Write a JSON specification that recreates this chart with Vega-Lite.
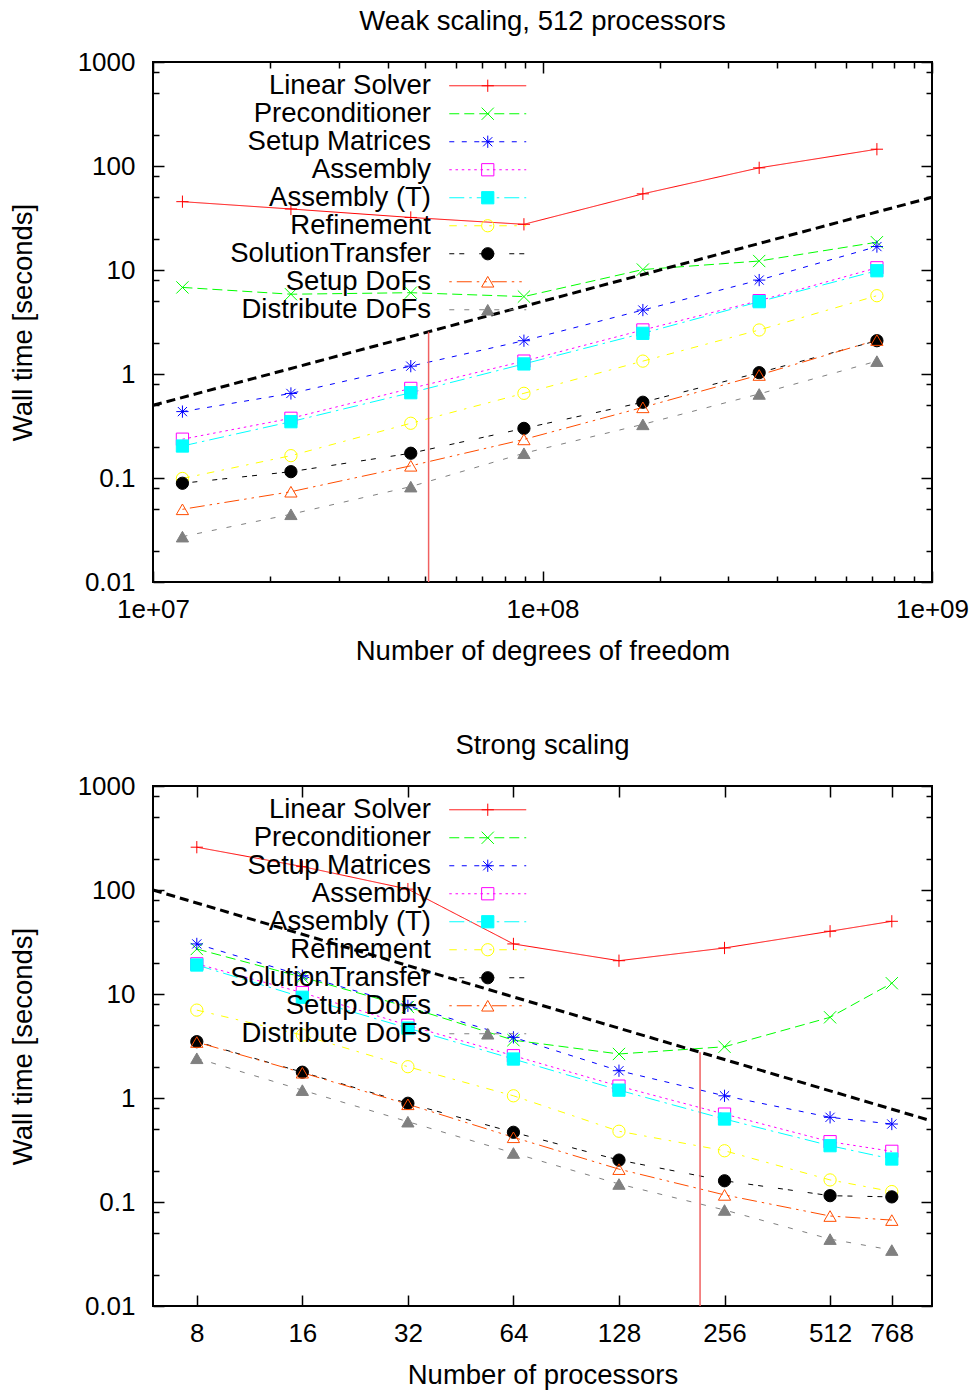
{
  "$schema": "https://vega.github.io/schema/vega-lite/v6.json",
  "background": "white",
  "padding": {"left": 8, "top": 6, "right": 5, "bottom": 5},
  "spacing": 64,
  "config": {
    "font": "Liberation Sans",
    "view": {"stroke": "black", "strokeWidth": 2},
    "axis": {"grid": false, "domain": false, "tickColor": "black", "tickWidth": 1.5, "labelFont": "Liberation Sans", "labelFontSize": 26, "labelColor": "black", "labelFlush": false, "labelOverlap": false, "labelBound": false, "titleFont": "Liberation Sans", "titleFontSize": 27.5, "titleFontWeight": "normal", "titleColor": "black"},
    "legend": {"labelFont": "Liberation Sans", "labelFontSize": 27.5, "labelColor": "black", "labelLimit": 0, "padding": 0, "rowPadding": -1.5},
    "title": {"font": "Liberation Sans", "fontSize": 27.5, "fontWeight": "normal", "color": "black", "baseline": "alphabetic", "offset": 14}
  },
  "datasets": {
    "weak": [
      {"s": "Linear Solver", "x": 11900000, "y": 45.4}, {"s": "Linear Solver", "x": 22600000, "y": 38.6}, {"s": "Linear Solver", "x": 45900000, "y": 32}, {"s": "Linear Solver", "x": 89600000, "y": 27.5}, {"s": "Linear Solver", "x": 181000000, "y": 54}, {"s": "Linear Solver", "x": 360000000, "y": 96}, {"s": "Linear Solver", "x": 722000000, "y": 145},
      {"s": "Preconditioner", "x": 11900000, "y": 6.8}, {"s": "Preconditioner", "x": 22600000, "y": 5.85}, {"s": "Preconditioner", "x": 45900000, "y": 6.05}, {"s": "Preconditioner", "x": 89600000, "y": 5.55}, {"s": "Preconditioner", "x": 181000000, "y": 10.1}, {"s": "Preconditioner", "x": 360000000, "y": 12.2}, {"s": "Preconditioner", "x": 722000000, "y": 18.5},
      {"s": "Setup Matrices", "x": 11900000, "y": 0.435}, {"s": "Setup Matrices", "x": 22600000, "y": 0.65}, {"s": "Setup Matrices", "x": 45900000, "y": 1.19}, {"s": "Setup Matrices", "x": 89600000, "y": 2.09}, {"s": "Setup Matrices", "x": 181000000, "y": 4.12}, {"s": "Setup Matrices", "x": 360000000, "y": 8.0}, {"s": "Setup Matrices", "x": 722000000, "y": 16.8},
      {"s": "Assembly", "x": 11900000, "y": 0.236}, {"s": "Assembly", "x": 22600000, "y": 0.375}, {"s": "Assembly", "x": 45900000, "y": 0.727}, {"s": "Assembly", "x": 89600000, "y": 1.33}, {"s": "Assembly", "x": 181000000, "y": 2.65}, {"s": "Assembly", "x": 360000000, "y": 5.07}, {"s": "Assembly", "x": 722000000, "y": 10.5},
      {"s": "Assembly (T)", "x": 11900000, "y": 0.203}, {"s": "Assembly (T)", "x": 22600000, "y": 0.348}, {"s": "Assembly (T)", "x": 45900000, "y": 0.661}, {"s": "Assembly (T)", "x": 89600000, "y": 1.25}, {"s": "Assembly (T)", "x": 181000000, "y": 2.46}, {"s": "Assembly (T)", "x": 360000000, "y": 4.96}, {"s": "Assembly (T)", "x": 722000000, "y": 9.84},
      {"s": "Refinement", "x": 11900000, "y": 0.099}, {"s": "Refinement", "x": 22600000, "y": 0.164}, {"s": "Refinement", "x": 45900000, "y": 0.336}, {"s": "Refinement", "x": 89600000, "y": 0.652}, {"s": "Refinement", "x": 181000000, "y": 1.33}, {"s": "Refinement", "x": 360000000, "y": 2.65}, {"s": "Refinement", "x": 722000000, "y": 5.66},
      {"s": "SolutionTransfer", "x": 11900000, "y": 0.089}, {"s": "SolutionTransfer", "x": 22600000, "y": 0.115}, {"s": "SolutionTransfer", "x": 45900000, "y": 0.173}, {"s": "SolutionTransfer", "x": 89600000, "y": 0.30}, {"s": "SolutionTransfer", "x": 181000000, "y": 0.535}, {"s": "SolutionTransfer", "x": 360000000, "y": 1.03}, {"s": "SolutionTransfer", "x": 722000000, "y": 2.09},
      {"s": "Setup DoFs", "x": 11900000, "y": 0.050}, {"s": "Setup DoFs", "x": 22600000, "y": 0.0738}, {"s": "Setup DoFs", "x": 45900000, "y": 0.131}, {"s": "Setup DoFs", "x": 89600000, "y": 0.235}, {"s": "Setup DoFs", "x": 181000000, "y": 0.478}, {"s": "Setup DoFs", "x": 360000000, "y": 0.978}, {"s": "Setup DoFs", "x": 722000000, "y": 2.12},
      {"s": "Distribute DoFs", "x": 11900000, "y": 0.0273}, {"s": "Distribute DoFs", "x": 22600000, "y": 0.0448}, {"s": "Distribute DoFs", "x": 45900000, "y": 0.0826}, {"s": "Distribute DoFs", "x": 89600000, "y": 0.173}, {"s": "Distribute DoFs", "x": 181000000, "y": 0.328}, {"s": "Distribute DoFs", "x": 360000000, "y": 0.643}, {"s": "Distribute DoFs", "x": 722000000, "y": 1.33}
    ],
    "strong": [
      {"s": "Linear Solver", "x": 8, "y": 258}, {"s": "Linear Solver", "x": 16, "y": 168}, {"s": "Linear Solver", "x": 32, "y": 102}, {"s": "Linear Solver", "x": 64, "y": 30.3}, {"s": "Linear Solver", "x": 128, "y": 20.9}, {"s": "Linear Solver", "x": 256, "y": 27.7}, {"s": "Linear Solver", "x": 512, "y": 40.1}, {"s": "Linear Solver", "x": 768, "y": 50},
      {"s": "Preconditioner", "x": 8, "y": 27.1}, {"s": "Preconditioner", "x": 16, "y": 14.5}, {"s": "Preconditioner", "x": 32, "y": 7.5}, {"s": "Preconditioner", "x": 64, "y": 3.6}, {"s": "Preconditioner", "x": 128, "y": 2.65}, {"s": "Preconditioner", "x": 256, "y": 3.11}, {"s": "Preconditioner", "x": 512, "y": 5.97}, {"s": "Preconditioner", "x": 768, "y": 12.7},
      {"s": "Setup Matrices", "x": 8, "y": 30.3}, {"s": "Setup Matrices", "x": 16, "y": 15}, {"s": "Setup Matrices", "x": 32, "y": 7.7}, {"s": "Setup Matrices", "x": 64, "y": 3.83}, {"s": "Setup Matrices", "x": 128, "y": 1.83}, {"s": "Setup Matrices", "x": 256, "y": 1.05}, {"s": "Setup Matrices", "x": 512, "y": 0.652}, {"s": "Setup Matrices", "x": 768, "y": 0.562},
      {"s": "Assembly", "x": 8, "y": 19.5}, {"s": "Assembly", "x": 16, "y": 10.3}, {"s": "Assembly", "x": 32, "y": 5.0}, {"s": "Assembly", "x": 64, "y": 2.55}, {"s": "Assembly", "x": 128, "y": 1.3}, {"s": "Assembly", "x": 256, "y": 0.70}, {"s": "Assembly", "x": 512, "y": 0.38}, {"s": "Assembly", "x": 768, "y": 0.307},
      {"s": "Assembly (T)", "x": 8, "y": 19.0}, {"s": "Assembly (T)", "x": 16, "y": 9.3}, {"s": "Assembly (T)", "x": 32, "y": 4.7}, {"s": "Assembly (T)", "x": 64, "y": 2.37}, {"s": "Assembly (T)", "x": 128, "y": 1.19}, {"s": "Assembly (T)", "x": 256, "y": 0.628}, {"s": "Assembly (T)", "x": 512, "y": 0.348}, {"s": "Assembly (T)", "x": 768, "y": 0.259},
      {"s": "Refinement", "x": 8, "y": 7.0}, {"s": "Refinement", "x": 16, "y": 4.03}, {"s": "Refinement", "x": 32, "y": 2.0}, {"s": "Refinement", "x": 64, "y": 1.05}, {"s": "Refinement", "x": 128, "y": 0.479}, {"s": "Refinement", "x": 256, "y": 0.311}, {"s": "Refinement", "x": 512, "y": 0.163}, {"s": "Refinement", "x": 768, "y": 0.126},
      {"s": "SolutionTransfer", "x": 8, "y": 3.48}, {"s": "SolutionTransfer", "x": 16, "y": 1.77}, {"s": "SolutionTransfer", "x": 32, "y": 0.89}, {"s": "SolutionTransfer", "x": 64, "y": 0.468}, {"s": "SolutionTransfer", "x": 128, "y": 0.253}, {"s": "SolutionTransfer", "x": 256, "y": 0.160}, {"s": "SolutionTransfer", "x": 512, "y": 0.115}, {"s": "SolutionTransfer", "x": 768, "y": 0.112},
      {"s": "Setup DoFs", "x": 8, "y": 3.45}, {"s": "Setup DoFs", "x": 16, "y": 1.75}, {"s": "Setup DoFs", "x": 32, "y": 0.87}, {"s": "Setup DoFs", "x": 64, "y": 0.419}, {"s": "Setup DoFs", "x": 128, "y": 0.207}, {"s": "Setup DoFs", "x": 256, "y": 0.117}, {"s": "Setup DoFs", "x": 512, "y": 0.0733}, {"s": "Setup DoFs", "x": 768, "y": 0.067},
      {"s": "Distribute DoFs", "x": 8, "y": 2.41}, {"s": "Distribute DoFs", "x": 16, "y": 1.19}, {"s": "Distribute DoFs", "x": 32, "y": 0.592}, {"s": "Distribute DoFs", "x": 64, "y": 0.296}, {"s": "Distribute DoFs", "x": 128, "y": 0.149}, {"s": "Distribute DoFs", "x": 256, "y": 0.0838}, {"s": "Distribute DoFs", "x": 512, "y": 0.044}, {"s": "Distribute DoFs", "x": 768, "y": 0.0345}
    ],
    "weakIdeal": [{"x": 10000000, "y": 0.5}, {"x": 1000000000, "y": 50}],
    "strongIdeal": [{"x": 6, "y": 100}, {"x": 1000, "y": 0.6}],
    "weakCross": [{"x": 51000000, "y0": 0.01, "y1": 2.55}],
    "strongCross": [{"x": 218, "y0": 0.01, "y1": 2.75}]
  },
  "resolve": {
    "scale": {"x": "independent", "y": "independent", "stroke": "independent", "fill": "independent", "shape": "independent", "strokeDash": "independent"},
    "legend": {"stroke": "independent", "fill": "independent", "shape": "independent", "strokeDash": "independent"}
  },
  "vconcat": [
    {
      "title": {"text": "Weak scaling, 512 processors"},
      "width": 779,
      "height": 520,
      "resolve": {"axis": {"x": "independent", "y": "independent"}, "legend": {"stroke": "independent", "fill": "independent", "shape": "independent", "strokeDash": "independent"}},
      "layer": [
        {
          "data": {"name": "weak"},
          "mark": {"type": "line", "strokeWidth": 1},
          "encoding": {
            "x": {"field": "x", "type": "quantitative", "scale": {"type": "log", "domain": [10000000, 1000000000], "nice": false}, "axis": {"orient": "bottom", "values": [10000000, 100000000, 1000000000], "labelExpr": "datum.value < 50000000 ? '1e+07' : datum.value < 500000000 ? '1e+08' : '1e+09'", "tickSize": -11, "labelPadding": 25, "title": "Number of degrees of freedom", "titlePadding": 15}},
            "y": {"field": "y", "type": "quantitative", "scale": {"type": "log", "domain": [0.01, 1000], "nice": false}, "axis": {"orient": "left", "values": [0.01, 0.1, 1, 10, 100, 1000], "format": "~g", "tickSize": -11, "labelPadding": 29, "title": "Wall time [seconds]", "titlePadding": 40}},
            "stroke": {"field": "s", "type": "nominal", "scale": {"domain": ["Linear Solver", "Preconditioner", "Setup Matrices", "Assembly", "Assembly (T)", "Refinement", "SolutionTransfer", "Setup DoFs", "Distribute DoFs"], "range": ["#ff0000", "#00ff00", "#0000ff", "#ff00ff", "#00ffff", "#ffff00", "#000000", "#ff4d00", "#808080"]}, "legend": {"title": null, "orient": "none", "legendX": 321, "legendY": 10, "symbolType": "M-5.92,0H5.92", "symbolSize": 169, "symbolStrokeWidth": 1, "labelOffset": -70.5, "labelAlign": "right", "labelBaseline": "middle", "labelFontSize": 27.5, "labelLimit": 0, "padding": 0, "rowPadding": -1.5}},
            "strokeDash": {"field": "s", "type": "nominal", "scale": {"domain": ["Linear Solver", "Preconditioner", "Setup Matrices", "Assembly", "Assembly (T)", "Refinement", "SolutionTransfer", "Setup DoFs", "Distribute DoFs"], "range": [[1, 0], [10, 5], [5, 7.5], [2.5, 3.75], [15, 5, 2.5, 5], [7.5, 7.5, 2.5, 7.5], [5, 5, 5, 15], [2.5, 5, 15, 5, 2.5, 5], [5, 10]]}, "legend": {"title": null, "orient": "none", "legendX": 321, "legendY": 10, "symbolType": "M-5.92,0H5.92", "symbolSize": 169, "symbolStrokeWidth": 1, "labelOffset": -70.5, "labelAlign": "right", "labelBaseline": "middle", "labelFontSize": 27.5, "labelLimit": 0, "padding": 0, "rowPadding": -1.5}}
          }
        },
        {
          "data": {"name": "weak"},
          "mark": {"type": "point", "filled": true, "size": 150, "strokeWidth": 1, "opacity": 1},
          "encoding": {
            "x": {"field": "x", "type": "quantitative", "axis": {"orient": "top", "values": [10000000, 100000000, 1000000000], "labels": false, "tickSize": -11, "title": null}},
            "y": {"field": "y", "type": "quantitative", "axis": {"orient": "right", "values": [0.01, 0.1, 1, 10, 100, 1000], "labels": false, "tickSize": -11, "title": null}},
            "stroke": {"field": "s", "type": "nominal", "legend": {"title": null, "orient": "none", "legendX": 321, "legendY": 10, "symbolSize": 150, "symbolStrokeWidth": 1, "labelExpr": "''", "labelFontSize": 27.5, "padding": 0, "rowPadding": -1.5}},
            "fill": {"field": "s", "type": "nominal", "scale": {"domain": ["Linear Solver", "Preconditioner", "Setup Matrices", "Assembly", "Assembly (T)", "Refinement", "SolutionTransfer", "Setup DoFs", "Distribute DoFs"], "range": ["transparent", "transparent", "transparent", "transparent", "#00ffff", "transparent", "#000000", "transparent", "#808080"]}, "legend": {"title": null, "orient": "none", "legendX": 321, "legendY": 10, "symbolSize": 150, "symbolStrokeWidth": 1, "labelExpr": "''", "labelFontSize": 27.5, "padding": 0, "rowPadding": -1.5}},
            "shape": {"field": "s", "type": "nominal", "scale": {"domain": ["Linear Solver", "Preconditioner", "Setup Matrices", "Assembly", "Assembly (T)", "Refinement", "SolutionTransfer", "Setup DoFs", "Distribute DoFs"], "range": ["M-1,0H1M0,-1V1", "M-1,-1L1,1M-1,1L1,-1", "M-1,0H1M0,-1V1M-0.75,-0.75L0.75,0.75M-0.75,0.75L0.75,-0.75", "square", "square", "circle", "circle", "triangle-up", "triangle-up"]}, "legend": {"title": null, "orient": "none", "legendX": 321, "legendY": 10, "symbolSize": 150, "symbolStrokeWidth": 1, "labelExpr": "''", "labelFontSize": 27.5, "padding": 0, "rowPadding": -1.5}}
          }
        },
        {
          "data": {"name": "weakIdeal"},
          "mark": {"type": "line", "color": "black", "strokeWidth": 3, "strokeDash": [9, 5]},
          "encoding": {
            "x": {"field": "x", "type": "quantitative", "axis": {"orient": "bottom", "values": [20000000, 30000000, 40000000, 50000000, 60000000, 70000000, 80000000, 90000000, 200000000, 300000000, 400000000, 500000000, 600000000, 700000000, 800000000, 900000000], "labels": false, "tickSize": -6, "title": null}},
            "y": {"field": "y", "type": "quantitative", "axis": {"orient": "left", "values": [0.02, 0.05, 0.08, 0.2, 0.5, 0.8, 2, 5, 8, 20, 50, 80, 200, 500, 800], "labels": false, "tickSize": -6, "title": null}}
          }
        },
        {
          "data": {"name": "weakCross"},
          "mark": {"type": "rule", "color": "#f06060", "strokeWidth": 1.5},
          "encoding": {
            "x": {"field": "x", "type": "quantitative", "axis": {"orient": "top", "values": [20000000, 30000000, 40000000, 50000000, 60000000, 70000000, 80000000, 90000000, 200000000, 300000000, 400000000, 500000000, 600000000, 700000000, 800000000, 900000000], "labels": false, "tickSize": -6, "title": null}},
            "y": {"field": "y0", "type": "quantitative", "axis": {"orient": "right", "values": [0.02, 0.05, 0.08, 0.2, 0.5, 0.8, 2, 5, 8, 20, 50, 80, 200, 500, 800], "labels": false, "tickSize": -6, "title": null}},
            "y2": {"field": "y1"}
          }
        }
      ]
    },
    {
      "title": {"text": "Strong scaling"},
      "width": 779,
      "height": 520,
      "resolve": {"axis": {"x": "independent", "y": "independent"}, "legend": {"stroke": "independent", "fill": "independent", "shape": "independent", "strokeDash": "independent"}},
      "layer": [
        {
          "data": {"name": "strong"},
          "mark": {"type": "line", "strokeWidth": 1},
          "encoding": {
            "x": {"field": "x", "type": "quantitative", "scale": {"type": "log", "domain": [6, 1000], "nice": false}, "axis": {"orient": "bottom", "values": [8, 16, 32, 64, 128, 256, 512, 768], "format": "d", "tickSize": -11, "labelPadding": 25, "title": "Number of processors", "titlePadding": 15}},
            "y": {"field": "y", "type": "quantitative", "scale": {"type": "log", "domain": [0.01, 1000], "nice": false}, "axis": {"orient": "left", "values": [0.01, 0.1, 1, 10, 100, 1000], "format": "~g", "tickSize": -11, "labelPadding": 29, "title": "Wall time [seconds]", "titlePadding": 40}},
            "stroke": {"field": "s", "type": "nominal", "scale": {"domain": ["Linear Solver", "Preconditioner", "Setup Matrices", "Assembly", "Assembly (T)", "Refinement", "SolutionTransfer", "Setup DoFs", "Distribute DoFs"], "range": ["#ff0000", "#00ff00", "#0000ff", "#ff00ff", "#00ffff", "#ffff00", "#000000", "#ff4d00", "#808080"]}, "legend": {"title": null, "orient": "none", "legendX": 321, "legendY": 10, "symbolType": "M-5.92,0H5.92", "symbolSize": 169, "symbolStrokeWidth": 1, "labelOffset": -70.5, "labelAlign": "right", "labelBaseline": "middle", "labelFontSize": 27.5, "labelLimit": 0, "padding": 0, "rowPadding": -1.5}},
            "strokeDash": {"field": "s", "type": "nominal", "scale": {"domain": ["Linear Solver", "Preconditioner", "Setup Matrices", "Assembly", "Assembly (T)", "Refinement", "SolutionTransfer", "Setup DoFs", "Distribute DoFs"], "range": [[1, 0], [10, 5], [5, 7.5], [2.5, 3.75], [15, 5, 2.5, 5], [7.5, 7.5, 2.5, 7.5], [5, 5, 5, 15], [2.5, 5, 15, 5, 2.5, 5], [5, 10]]}, "legend": {"title": null, "orient": "none", "legendX": 321, "legendY": 10, "symbolType": "M-5.92,0H5.92", "symbolSize": 169, "symbolStrokeWidth": 1, "labelOffset": -70.5, "labelAlign": "right", "labelBaseline": "middle", "labelFontSize": 27.5, "labelLimit": 0, "padding": 0, "rowPadding": -1.5}}
          }
        },
        {
          "data": {"name": "strong"},
          "mark": {"type": "point", "filled": true, "size": 150, "strokeWidth": 1, "opacity": 1},
          "encoding": {
            "x": {"field": "x", "type": "quantitative", "axis": {"orient": "top", "values": [8, 16, 32, 64, 128, 256, 512, 768], "labels": false, "tickSize": -11, "title": null}},
            "y": {"field": "y", "type": "quantitative", "axis": {"orient": "right", "values": [0.01, 0.1, 1, 10, 100, 1000], "labels": false, "tickSize": -11, "title": null}},
            "stroke": {"field": "s", "type": "nominal", "legend": {"title": null, "orient": "none", "legendX": 321, "legendY": 10, "symbolSize": 150, "symbolStrokeWidth": 1, "labelExpr": "''", "labelFontSize": 27.5, "padding": 0, "rowPadding": -1.5}},
            "fill": {"field": "s", "type": "nominal", "scale": {"domain": ["Linear Solver", "Preconditioner", "Setup Matrices", "Assembly", "Assembly (T)", "Refinement", "SolutionTransfer", "Setup DoFs", "Distribute DoFs"], "range": ["transparent", "transparent", "transparent", "transparent", "#00ffff", "transparent", "#000000", "transparent", "#808080"]}, "legend": {"title": null, "orient": "none", "legendX": 321, "legendY": 10, "symbolSize": 150, "symbolStrokeWidth": 1, "labelExpr": "''", "labelFontSize": 27.5, "padding": 0, "rowPadding": -1.5}},
            "shape": {"field": "s", "type": "nominal", "scale": {"domain": ["Linear Solver", "Preconditioner", "Setup Matrices", "Assembly", "Assembly (T)", "Refinement", "SolutionTransfer", "Setup DoFs", "Distribute DoFs"], "range": ["M-1,0H1M0,-1V1", "M-1,-1L1,1M-1,1L1,-1", "M-1,0H1M0,-1V1M-0.75,-0.75L0.75,0.75M-0.75,0.75L0.75,-0.75", "square", "square", "circle", "circle", "triangle-up", "triangle-up"]}, "legend": {"title": null, "orient": "none", "legendX": 321, "legendY": 10, "symbolSize": 150, "symbolStrokeWidth": 1, "labelExpr": "''", "labelFontSize": 27.5, "padding": 0, "rowPadding": -1.5}}
          }
        },
        {
          "data": {"name": "strongIdeal"},
          "mark": {"type": "line", "color": "black", "strokeWidth": 3, "strokeDash": [9, 5]},
          "encoding": {
            "x": {"field": "x", "type": "quantitative", "axis": null},
            "y": {"field": "y", "type": "quantitative", "axis": {"orient": "left", "values": [0.02, 0.05, 0.08, 0.2, 0.5, 0.8, 2, 5, 8, 20, 50, 80, 200, 500, 800], "labels": false, "tickSize": -6, "title": null}}
          }
        },
        {
          "data": {"name": "strongCross"},
          "mark": {"type": "rule", "color": "#f06060", "strokeWidth": 1.5},
          "encoding": {
            "x": {"field": "x", "type": "quantitative", "axis": null},
            "y": {"field": "y0", "type": "quantitative", "axis": {"orient": "right", "values": [0.02, 0.05, 0.08, 0.2, 0.5, 0.8, 2, 5, 8, 20, 50, 80, 200, 500, 800], "labels": false, "tickSize": -6, "title": null}},
            "y2": {"field": "y1"}
          }
        }
      ]
    }
  ]
}
